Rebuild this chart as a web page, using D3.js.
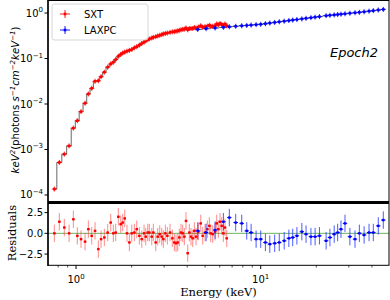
<!DOCTYPE html>
<meta charset="utf-8">
<style>
body { margin: 0; background: #fff; }
text { font-family: "DejaVu Sans", sans-serif; }
.serif { font-family: "DejaVu Serif", serif; }
</style>
<body>
<script src="https://cdnjs.cloudflare.com/ajax/libs/d3/7.8.5/d3.min.js"></script>
<script>
// SXT spectrum (keV, keV^2 flux, residual)
var sxtE = [0.763, 0.812, 0.864, 0.917, 0.967, 1.016, 1.064, 1.119, 1.166, 1.216,
  1.267, 1.320, 1.366, 1.423, 1.484, 1.541, 1.592, 1.640, 1.694, 1.746,
  1.789, 1.835, 1.888, 1.944, 2.003, 2.069, 2.132, 2.202, 2.269, 2.335,
  2.385, 2.445, 2.494, 2.570, 2.621, 2.701, 2.769, 2.839, 2.911, 2.969,
  3.044, 3.121, 3.228, 3.322, 3.406, 3.479, 3.553, 3.625, 3.703, 3.782,
  3.858, 3.940, 4.025, 4.106, 4.194, 4.284, 4.371, 4.465, 4.595, 4.734,
  4.853, 4.994, 5.140, 5.270, 5.363, 5.498, 5.658, 5.779, 5.894, 6.020,
  6.149, 6.273, 6.408, 6.545];
var sxtF = [1.35e-4, 5.2e-4, 7.9e-4, 1.2e-3, 2.95e-3, 4.3e-3, 6.8e-3, 1.04e-2, 1.66e-2, 2.21e-2,
  3.16e-2, 3.24e-2, 3.98e-2, 5.0e-2, 6.46e-2, 7.6e-2, 8.3e-2, 9.5e-2, 0.112, 0.123,
  0.132, 0.138, 0.145, 0.151, 0.158, 0.172, 0.182, 0.197, 0.214, 0.229,
  0.245, 0.260, 0.269, 0.282, 0.292, 0.302, 0.313, 0.324, 0.335, 0.347,
  0.355, 0.363, 0.376, 0.385, 0.389, 0.398, 0.403, 0.417, 0.427, 0.437,
  0.442, 0.468, 0.427, 0.457, 0.457, 0.457, 0.479, 0.468, 0.490, 0.525,
  0.490, 0.501, 0.513, 0.537, 0.513, 0.513, 0.525, 0.575, 0.550, 0.589,
  0.562, 0.537, 0.575, 0.525];
var sxtR = [0.0, 1.4, 0.7, 0.0, 1.7, -0.3, -0.7, -1.0, 0.5, -0.3,
  0.3, -1.9, -0.7, -0.5, 0.1, 1.3, 0.0, 0.1, 2.0, 1.1,
  1.3, 1.8, 0.0, -1.1, 0.0, 0.1, 0.5, -0.3, -0.7, 0.0,
  -0.4, 0.1, 0.1, -0.4, 0.1, -1.1, -0.4, -0.1, -0.4, -0.7,
  0.0, -0.3, 0.1, -0.6, -1.1, -1.2, -1.1, -0.5, 0.1, 0.0,
  -0.4, 1.5, -2.4, 0.1, -0.4, -0.6, 0.3, -0.4, 0.2, 1.2,
  -0.3, 0.1, 0.5, 0.9, 0.0, -0.1, 0.2, 1.2, 0.5, 1.4,
  0.9, 0.0, 0.7, -0.6];

// LAXPC spectrum
var laxE = [4.56, 5.06, 5.66, 6.28, 6.76, 7.32, 7.89, 8.40, 8.87, 9.44,
  10.0, 10.6, 11.2, 11.9, 12.6, 13.4, 14.2, 14.9, 15.7, 16.7,
  17.6, 18.7, 19.7, 20.8, 22.6, 23.7, 25.0, 26.1, 27.2, 28.6,
  30.4, 32.4, 34.2, 36.3, 38.6, 40.7, 43.3, 46.1];
var laxF = [0.436, 0.452, 0.469, 0.485, 0.498, 0.511, 0.524, 0.533, 0.543, 0.555,
  0.565, 0.583, 0.601, 0.621, 0.641, 0.661, 0.682, 0.700, 0.719, 0.743,
  0.764, 0.789, 0.811, 0.834, 0.873, 0.891, 0.910, 0.927, 0.942, 0.962,
  0.988, 1.014, 1.035, 1.064, 1.099, 1.127, 1.164, 1.199];
var laxR = [0.3, 0.1, 0.4, 1.4, 1.9, 1.3, 1.2, 0.3, 0.1, -0.7,
  -0.7, -1.1, -1.3, -1.2, -1.1, -0.9, -0.6, -0.5, -0.3, 0.2,
  -0.1, -0.4, -0.4, -0.3, -0.9, -0.5, -0.1, 0.1, 0.5, 1.2,
  -0.4, -0.7, 0.0, -0.2, 0.1, 0.1, 0.9, 1.6];

var yTicksTop = [-4, -3, -2, -1, 0];
var xTicks = [0, 1];
var resTicks = [2.5, 0.0, -2.5];

var W = 390, H = 300, L = 48, R = 389;
var svg = d3.select("body").append("svg").attr("width", W).attr("height", H);

var x = d3.scaleLog().domain([0.705, 49.5]).range([L, R]);
var yTop = d3.scaleLog().domain([Math.pow(10, -4.154), Math.pow(10, 0.286)]).range([202, 0]);
var yRes = d3.scaleLinear().domain([-3.82, 3.66]).range([265, 203]);

function pts(E, F, Rs) { return E.map(function(e, i) { return {e: e, f: F[i], r: Rs[i]}; }); }
var sxt = pts(sxtE, sxtF, sxtR), lax = pts(laxE, laxF, laxR);

// model step lines
var step = d3.line().curve(d3.curveStep).x(function(d) { return x(d.e); }).y(function(d) { return yTop(d.f); });
[sxt, lax].forEach(function(s) {
  svg.append("path").attr("d", step(s)).attr("fill", "none").attr("stroke", "#555").attr("stroke-width", 0.9);
});

// top panel points
function topPoints(data, col) {
  var g = svg.append("g");
  data.forEach(function(d) {
    var cx = x(d.e), cy = yTop(d.f);
    g.append("line").attr("x1", cx - 2.5).attr("x2", cx + 2.5).attr("y1", cy).attr("y2", cy).attr("stroke", col).attr("stroke-width", 0.9);
    g.append("line").attr("x1", cx).attr("x2", cx).attr("y1", cy - 2.5).attr("y2", cy + 2.5).attr("stroke", col).attr("stroke-width", 0.9);
    g.append("rect").attr("x", cx - 1.3).attr("y", cy - 1.3).attr("width", 2.6).attr("height", 2.6).attr("fill", col);
  });
}
topPoints(sxt, "#ff0000");
topPoints(lax, "#0000ff");

// residual panel
svg.append("line").attr("x1", L).attr("x2", R).attr("y1", yRes(0)).attr("y2", yRes(0))
  .attr("stroke", "#6cb45c").attr("stroke-width", 1);

function resPoints(data, col, barCol, xw) {
  var g = svg.append("g");
  data.forEach(function(d) {
    var cx = x(d.e), cy = yRes(d.r);
    g.append("line").attr("x1", cx).attr("x2", cx).attr("y1", yRes(d.r + 1.05)).attr("y2", yRes(d.r - 1.05))
      .attr("stroke", barCol).attr("stroke-width", 1);
    if (xw) g.append("line").attr("x1", cx - xw).attr("x2", cx + xw).attr("y1", cy).attr("y2", cy)
      .attr("stroke", col).attr("stroke-width", 1);
    g.append("rect").attr("x", cx - 1.2).attr("y", cy - 1.2).attr("width", 2.4).attr("height", 2.4).attr("fill", col);
  });
}
resPoints(sxt, "#ff0000", "rgba(255,40,40,0.55)", 1.2);
resPoints(lax, "#0000ff", "rgba(30,50,255,0.8)", 2.2);

// frames
svg.append("rect").attr("x", L).attr("y", 0.5).attr("width", R - L).attr("height", 201.5)
  .attr("fill", "none").attr("stroke", "#000").attr("stroke-width", 1);
svg.append("rect").attr("x", L).attr("y", 203).attr("width", R - L).attr("height", 62.3)
  .attr("fill", "none").attr("stroke", "#000").attr("stroke-width", 1);
svg.append("line").attr("x1", L).attr("x2", R).attr("y1", 202.5).attr("y2", 202.5).attr("stroke", "#000").attr("stroke-width", 3);
svg.append("line").attr("x1", L).attr("x2", L).attr("y1", 0).attr("y2", 266).attr("stroke", "#000").attr("stroke-width", 1.4);

// y ticks, top panel
yTicksTop.forEach(function(p) {
  var yy = yTop(Math.pow(10, p));
  svg.append("line").attr("x1", L - 3.5).attr("x2", L).attr("y1", yy).attr("y2", yy).attr("stroke", "#000");
  var t = svg.append("text").attr("x", L - 5).attr("y", yy + 3.5).attr("text-anchor", "end").attr("font-size", 10);
  t.append("tspan").text("10");
  t.append("tspan").attr("dy", -4.5).attr("font-size", 7).text(p === 0 ? "0" : "\u2212" + (-p));
});

// residual ticks
resTicks.forEach(function(v) {
  var yy = yRes(v);
  svg.append("line").attr("x1", L - 3.5).attr("x2", L).attr("y1", yy).attr("y2", yy).attr("stroke", "#000");
  svg.append("text").attr("x", L - 5).attr("y", yy + 3.5).attr("text-anchor", "end").attr("font-size", 10)
    .text(d3.format(".1f")(v).replace("-", "\u2212"));
});

// x ticks
var minor = [];
[0.1, 1, 10].forEach(function(dec) { for (var k = 2; k < 10; k++) minor.push(dec * k); });
minor.filter(function(v) { return v > 0.705 && v < 49.5; }).forEach(function(v) {
  svg.append("line").attr("x1", x(v)).attr("x2", x(v)).attr("y1", 265.3).attr("y2", 267.5).attr("stroke", "#000").attr("stroke-width", 0.7);
});
xTicks.forEach(function(p) {
  var xx = x(Math.pow(10, p));
  svg.append("line").attr("x1", xx).attr("x2", xx).attr("y1", 265.3).attr("y2", 269).attr("stroke", "#000");
  var t = svg.append("text").attr("x", xx).attr("y", 283).attr("text-anchor", "middle").attr("font-size", 10);
  t.append("tspan").text("10");
  t.append("tspan").attr("dy", -4.5).attr("font-size", 7).text(String(p));
});

// axis labels
svg.append("text").attr("class", "serif").attr("x", (L + R) / 2).attr("y", 296).attr("text-anchor", "middle")
  .attr("font-size", 11.5).text("Energy (keV)");
svg.append("text").attr("class", "serif").attr("transform", "translate(16,233) rotate(-90)")
  .attr("text-anchor", "middle").attr("font-size", 11.5).text("Residuals");

var yl = svg.append("text").attr("transform", "translate(19,100) rotate(-90)")
  .attr("text-anchor", "middle").attr("font-size", 10.2);
function it(s) { yl.append("tspan").attr("font-style", "italic").text(s); }
function sup(s) { yl.append("tspan").attr("baseline-shift", "4").attr("font-size", 7).attr("font-style", "italic").text(s); }
it("keV"); sup("2");
yl.append("tspan").text("(photons ");
it("s"); sup("\u22121"); it("cm"); sup("\u22122"); it("keV"); sup("\u22121");
yl.append("tspan").text(")");

// legend
var lg = svg.append("g").attr("transform", "translate(52,4)");
lg.append("rect").attr("width", 96).attr("height", 36).attr("rx", 2.5)
  .attr("fill", "#fff").attr("fill-opacity", 0.8).attr("stroke", "#ccc").attr("stroke-width", 0.8);
[["SXT", "#ff0000", 10], ["LAXPC", "#0000ff", 26]].forEach(function(it2) {
  var cx = 13, cy = it2[2];
  lg.append("line").attr("x1", cx - 5).attr("x2", cx + 5).attr("y1", cy).attr("y2", cy).attr("stroke", it2[1]).attr("stroke-width", 0.9);
  lg.append("line").attr("x1", cx).attr("x2", cx).attr("y1", cy - 4).attr("y2", cy + 4).attr("stroke", it2[1]).attr("stroke-width", 0.9);
  lg.append("rect").attr("x", cx - 1.3).attr("y", cy - 1.3).attr("width", 2.6).attr("height", 2.6).attr("fill", it2[1]);
  lg.append("text").attr("x", 32).attr("y", cy + 3.6).attr("font-size", 10).text(it2[0]);
});

svg.append("text").attr("x", 378).attr("y", 57).attr("text-anchor", "end").attr("font-size", 13)
  .attr("font-style", "italic").text("Epoch2");
</script>
</body>
